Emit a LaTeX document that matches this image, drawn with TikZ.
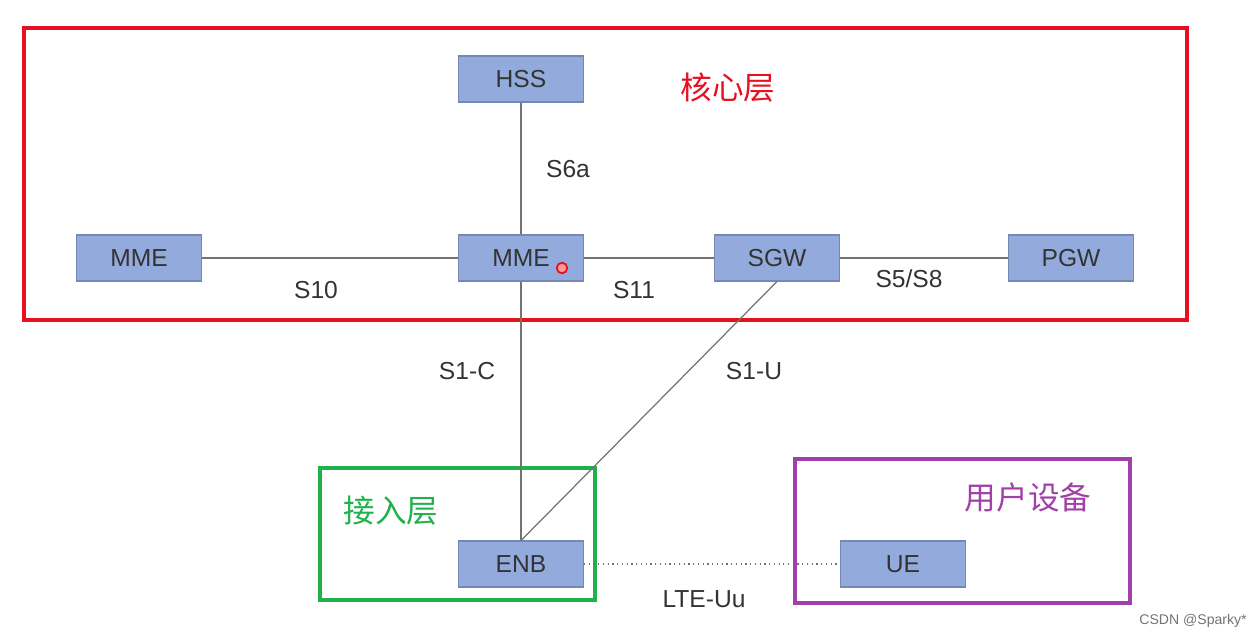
\documentclass[tikz,border=0pt]{standalone}
\usepackage{fontspec}
\setmainfont{Liberation Sans}
\newfontfamily\cjk{Noto Sans CJK SC}
\begin{document}
\begin{tikzpicture}[x=0.02cm,y=-0.02cm,
  box/.style={draw=#1!80!black,fill=#1,line width=0.6pt,minimum width=2.5cm,minimum height=0.92cm,inner sep=0pt,font=\fontsize{14}{16}\selectfont,text=black!80},
  box/.default=boxblue,
  lbl/.style={font=\fontsize{14}{16}\selectfont,text=black!80},
  ln/.style={draw=black!55,line width=0.7pt},
  zh/.style={font=\cjk\fontsize{18}{20}\selectfont}]
\definecolor{boxblue}{HTML}{93AADD}
\definecolor{cred}{HTML}{E8101E}
\definecolor{cgreen}{HTML}{1FB14A}
\definecolor{cpurple}{HTML}{A040A8}
\useasboundingbox (0,0) rectangle (1253,638);
\draw[cred,line width=2.4pt] (24,28) rectangle (1187,320);
\draw[cgreen,line width=2.4pt] (320,468) rectangle (595,600);
\draw[cpurple,line width=2.4pt] (795,459) rectangle (1130,603);
\node[box] (hss) at (521,79) {HSS};
\node[box] (mmel) at (139,258) {MME};
\node[box] (mme) at (521,258) {MME};
\node[box] (sgw) at (777,258) {SGW};
\node[box] (pgw) at (1071,258) {PGW};
\node[box] (enb) at (521,564) {ENB};
\node[box] (ue) at (903,564) {UE};
\draw[ln] (hss) -- (mme);
\draw[ln] (mmel) -- (mme);
\draw[ln] (mme) -- (sgw);
\draw[ln] (sgw) -- (pgw);
\draw[ln] (mme) -- (enb);
\draw[ln] (enb.north) -- (sgw.south);
\draw[ln,dotted] (enb) -- (ue);
\node[lbl] (l1) at (568,169) {S6a};
\node[lbl] (l2) at (316,290) {S10};
\node[lbl] (l3) at (634,290) {S11};
\node[lbl] (l4) at (909,279) {S5/S8};
\node[lbl] (l5) at (467,371) {S1-C};
\node[lbl] (l6) at (754,371) {S1-U};
\node[lbl] (l7) at (704,599) {LTE-Uu};
\node[zh,text=cred] (z1) at (728,88) {核心层};
\node[zh,text=cgreen] (z2) at (391,511) {接入层};
\node[zh,text=cpurple] (z3) at (1028,497) {用户设备};
\node[draw=cred,fill=red!40,circle,inner sep=0pt,minimum size=6pt,line width=1pt] (dot) at (562,268) {};
\node[font=\fontsize{8}{9}\selectfont,text=black!55] (wm) at (1193,621) {CSDN @Sparky*};
\end{tikzpicture}
\end{document}
